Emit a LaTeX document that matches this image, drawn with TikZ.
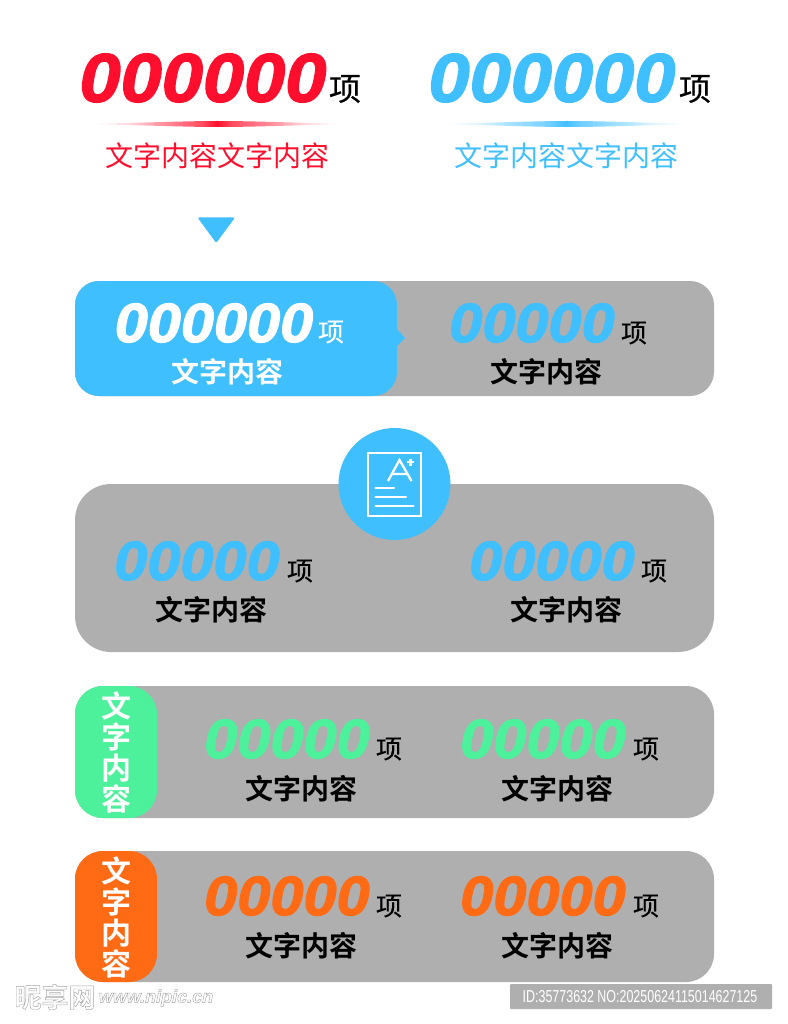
\documentclass[tikz,border=0pt]{standalone}
\usepackage{fontspec}
\newfontfamily\digitfont[FakeBold=2]{Liberation Sans Bold Italic}
\newfontfamily\logofont{Liberation Sans Bold Italic}
\newfontfamily\cjkreg{Noto Sans CJK SC}
\newfontfamily\cjkunit[FakeBold=0.4]{Noto Sans CJK SC}
\newfontfamily\cjkbold{Noto Sans CJK SC Bold}
\newfontfamily\wmfont[FakeStretch=0.72]{Liberation Sans}
\definecolor{panelgray}{HTML}{AFAFAF}
\definecolor{skyb}{HTML}{40BFFF}
\definecolor{redd}{HTML}{FF0F2D}
\definecolor{mint}{HTML}{4DF09B}
\definecolor{orng}{HTML}{FF6A14}
\pgfdeclarehorizontalshading{redfade}{100bp}{rgb(0bp)=(1,1,1); rgb(25bp)=(1,1,1); rgb(32.5bp)=(1,.86,.88); rgb(39bp)=(1,.58,.63); rgb(47bp)=(1,.30,.38); rgb(50bp)=(1,.059,.176); rgb(53bp)=(1,.30,.38); rgb(61bp)=(1,.58,.63); rgb(67.5bp)=(1,.86,.88); rgb(75bp)=(1,1,1); rgb(100bp)=(1,1,1)}
\pgfdeclarehorizontalshading{bluefade}{100bp}{rgb(0bp)=(1,1,1); rgb(25bp)=(1,1,1); rgb(32.5bp)=(.89,.96,1); rgb(39bp)=(.66,.89,1); rgb(47bp)=(.44,.81,1); rgb(50bp)=(.251,.749,1); rgb(53bp)=(.44,.81,1); rgb(61bp)=(.66,.89,1); rgb(67.5bp)=(.89,.96,1); rgb(75bp)=(1,1,1); rgb(100bp)=(1,1,1)}
\newcommand\numtext[1]{\scalebox{1}[0.93]{#1}}
\newcommand\outlined[1]{\special{pdf:code q 1 Tr 0.45 w}#1\special{pdf:code Q}}
\tikzset{
  txt/.style={inner sep=0pt,outer sep=0pt,anchor=center},
  bignum/.style={txt,font=\digitfont\fontsize{74}{74}\selectfont},
  midnum/.style={txt,font=\digitfont\fontsize{59.5}{60}\selectfont},
  bigunit/.style={txt,font=\cjkunit\fontsize{32}{32}\selectfont},
  midunit/.style={txt,font=\cjkunit\fontsize{26}{26}\selectfont},
  subtitle/.style={txt,font=\cjkreg\fontsize{28}{28}\selectfont},
  label/.style={txt,font=\cjkbold\fontsize{28}{28}\selectfont},
  tabtext/.style={txt,align=center,text=white,font=\cjkbold\fontsize{30}{31}\selectfont},
  panel/.style={fill=panelgray},
  iconline/.style={white,line width=2.3pt},
}
\begin{document}
\begin{tikzpicture}[x=1pt,y=-1pt]
\useasboundingbox (0,0) rectangle (787,1024);
% top
\node[bignum,text=redd] (r0) at (203,78) {\numtext{000000}};
\node[bigunit] (r1) at (345,89) {项};
\node[subtitle,text=redd] (r2) at (217,156) {文字内容文字内容};
\node[bignum,text=skyb] (b0) at (552,78) {\numtext{000000}};
\node[bigunit] (b1) at (695,89) {项};
\node[subtitle,text=skyb] (b2) at (566,156) {文字内容文字内容};
\shade[shading=redfade] (88,124) .. controls (150,122.5) and (190,121) .. (217,121) .. controls (250,121) and (290,122.5) .. (346,124) .. controls (290,125.5) and (250,127) .. (217,127) .. controls (190,127) and (150,125.5) .. (88,124) -- cycle;
\shade[shading=bluefade] (437,124) .. controls (500,122.5) and (540,121) .. (567,121) .. controls (600,121) and (640,122.5) .. (694,124) .. controls (640,125.5) and (600,127) .. (567,127) .. controls (540,127) and (500,125.5) .. (437,124) -- cycle;
\fill[skyb,rounded corners=1.5pt] (197.5,217.5) -- (235,217.5) -- (216.2,243) -- cycle;
% row 1
\fill[panel,rounded corners=24pt] (75,281) rectangle (714,396);
\fill[skyb,rounded corners=24pt] (75,281) rectangle (397,396);
\fill[skyb] (396,328) -- (405,338) -- (396,347) -- cycle;
\node[midnum,text=white] (a0) at (214,323) {\numtext{000000}};
\node[midunit,text=white] (a1) at (331,332) {项};
\node[label,text=white] (a2) at (227,372) {文字内容};
\node[midnum,text=skyb] (a3) at (532,323) {\numtext{00000}};
\node[midunit] (a4) at (634,333) {项};
\node[label] (a5) at (546,372) {文字内容};
% row 2
\fill[panel,rounded corners=36pt] (75,484) rectangle (714,652);
\fill[skyb] (394.5,484) circle (56);
\draw[iconline] (368,453) rectangle (421,516);
\draw[iconline] (388,481) -- (399.5,460) -- (411.5,481) (391.5,474) -- (407.5,474);
\draw[iconline] (410.5,458.5) -- (410.5,466) (406.8,462.3) -- (414.2,462.3);
\draw[iconline,line cap=round] (375.5,487.7) -- (394,487.7) (375.5,497) -- (406,497) (375.5,506.3) -- (413.5,506.3);
\node[midnum,text=skyb] (c0) at (197,561) {\numtext{00000}};
\node[midunit] (c1) at (300,571) {项};
\node[label] (c2) at (211,610) {文字内容};
\node[midnum,text=skyb] (c3) at (552,561) {\numtext{00000}};
\node[midunit] (c4) at (654,571) {项};
\node[label] (c5) at (566,610) {文字内容};
% row 3
\fill[panel,rounded corners=28pt] (75,686) rectangle (714,818);
\fill[mint,rounded corners=28pt] (75,686) rectangle (157,818);
\node[tabtext] (d6) at (116,752.5) {文\\字\\内\\容};
\node[midnum,text=mint] (d0) at (287,739) {\numtext{00000}};
\node[midunit] (d1) at (389,749) {项};
\node[label] (d2) at (301,789) {文字内容};
\node[midnum,text=mint] (d3) at (543,739) {\numtext{00000}};
\node[midunit] (d4) at (646,749) {项};
\node[label] (d5) at (557,789) {文字内容};
% row 4
\fill[panel,rounded corners=28pt] (75,851) rectangle (714,982);
\fill[orng,rounded corners=28pt] (75,851) rectangle (157,982);
\node[tabtext] (e6) at (116,917.5) {文\\字\\内\\容};
\node[midnum,text=orng] (e0) at (287,896) {\numtext{00000}};
\node[midunit] (e1) at (389,906) {项};
\node[label] (e2) at (301,946) {文字内容};
\node[midnum,text=orng] (e3) at (543,896) {\numtext{00000}};
\node[midunit] (e4) at (646,906) {项};
\node[label] (e5) at (557,946) {文字内容};
% watermark
\node[txt,text=black!35,font=\cjkbold\fontsize{27}{27}\selectfont] (w0) at (55,997) {\outlined{昵享网}};
\node[txt,text=black!35,font=\logofont\fontsize{18}{18}\selectfont] (w1) at (156,998) {\outlined{www.nipic.cn}};
\fill[panelgray,rounded corners=1pt] (510,984) rectangle (772,1009);
\node[txt,text=white,font=\wmfont\fontsize{17.3}{18}\selectfont] (w2) at (640,996.5) {ID:35773632 NO:20250624115014627125};
\end{tikzpicture}
\end{document}
